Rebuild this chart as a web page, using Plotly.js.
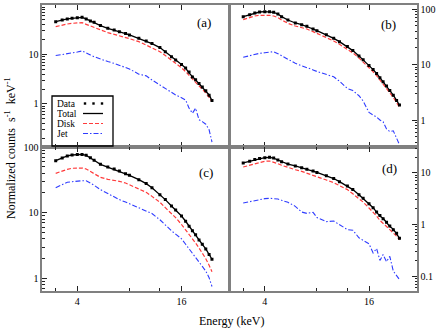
<!DOCTYPE html>
<html>
<head>
<meta charset="utf-8">
<script src="https://cdn.plot.ly/plotly-3.0.1.min.js"></script>
<style>html,body{margin:0;padding:0;background:#fff;}#chart{width:436px;height:329px;}</style>
</head>
<body>
<div id="chart"></div>
<script>
// Energy grid (keV)
const energy = [3.0, 3.27, 3.5, 3.73, 4.0, 4.26, 4.5, 4.76, 5.0, 5.44, 6.0, 6.53, 7.0, 7.6, 8.0, 9.07, 10.0, 10.8, 12.0, 12.9, 14.0, 14.8, 16.0, 16.9, 17.7, 18.5, 19.3, 20.2, 21.1, 22.1, 23.1, 24.0];

// Panel (a)
const dataA  = [46.0, 49.8, 52.2, 53.9, 55.5, 56.3, 52.2, 47.5, 44.7, 38.3, 33.8, 31.3, 28.9, 26.4, 24.8, 21.2, 18.7, 16.6, 13.8, 11.4, 9.0, 7.7, 6.3, 5.3, 4.4, 3.5, 3.1, 2.6, 2.2, 1.85, 1.5, 1.17];
const totalA = [46.0, 49.8, 52.2, 53.9, 55.5, 56.3, 52.2, 47.5, 44.7, 38.3, 33.8, 31.3, 28.9, 26.4, 24.8, 21.2, 18.7, 16.6, 13.8, 11.4, 9.0, 7.7, 6.3, 5.3, 4.2, 3.6, 3.05, 2.6, 2.24, 1.83, 1.52, 1.17];
const diskA  = [36.5, 39.4, 41.3, 42.6, 44.0, 44.0, 40.7, 37.6, 34.9, 30.8, 27.6, 25.5, 24.0, 22.2, 20.9, 18.2, 15.6, 13.8, 11.4, 9.5, 7.7, 6.6, 5.4, 4.5, 3.7, 3.2, 2.74, 2.35, 2.0, 1.67, 1.36, 1.11];
const jetA   = [9.5, 9.9, 10.4, 10.7, 11.2, 11.8, 10.9, 9.8, 9.0, 8.0, 7.2, 6.6, 6.1, 5.6, 5.1, 4.0, 3.7, 3.05, 2.4, 2.0, 1.72, 1.52, 1.34, 1.2, 0.82, 0.65, 0.82, 0.48, 0.44, 0.39, 0.30, 0.17];

// Panel (b)
const dataB  = [72.8, 79.1, 84.7, 88.3, 89.5, 89.5, 87.1, 81.3, 72.8, 63.4, 56.0, 52.2, 48.7, 43.6, 40.7, 34.5, 29.6, 25.8, 21.0, 17.8, 14.3, 12.2, 9.6, 8.1, 6.9, 5.8, 4.9, 4.1, 3.4, 2.8, 2.25, 1.86];
const totalB = [72.8, 79.1, 84.7, 88.3, 89.5, 89.5, 87.1, 81.3, 72.8, 63.4, 56.0, 52.2, 48.7, 43.6, 40.7, 34.5, 29.6, 25.8, 21.0, 17.8, 14.3, 12.2, 9.6, 8.1, 6.9, 5.8, 4.9, 4.1, 3.4, 2.8, 2.25, 1.86];
const diskB  = [64.3, 69.8, 74.8, 76.9, 78.0, 76.9, 74.8, 69.8, 63.4, 55.2, 49.4, 46.1, 43.6, 39.1, 36.5, 30.8, 26.5, 23.1, 19.0, 16.2, 13.1, 11.2, 8.8, 7.4, 6.3, 5.3, 4.5, 3.75, 3.1, 2.55, 2.05, 1.71];
const jetB   = [13.5, 14.4, 15.5, 15.9, 16.3, 16.8, 17.0, 15.7, 14.4, 12.6, 10.5, 9.5, 8.9, 8.0, 7.5, 6.7, 6.0, 5.0, 3.7, 3.4, 2.74, 2.2, 1.37, 1.23, 1.13, 1.0, 0.93, 0.69, 0.62, 0.64, 0.47, 0.36];

// Panel (c)
const dataC  = [61.9, 67.9, 73.0, 75.5, 77.2, 77.2, 74.6, 68.8, 62.7, 54.5, 49.6, 46.2, 43.1, 39.3, 37.0, 31.8, 27.7, 24.0, 18.8, 15.8, 12.6, 11.0, 8.9, 7.4, 6.2, 5.3, 4.6, 3.85, 3.3, 2.8, 2.3, 1.95];
const totalC = [61.9, 67.9, 73.0, 75.5, 77.2, 77.2, 74.6, 68.8, 62.7, 54.5, 49.6, 46.2, 43.1, 39.3, 37.0, 31.8, 27.7, 24.0, 18.8, 15.8, 12.6, 11.0, 8.9, 7.4, 6.2, 5.3, 4.6, 3.85, 3.3, 2.8, 2.3, 1.95];
const diskC  = [39.7, 43.1, 45.7, 47.4, 47.9, 47.9, 46.2, 42.6, 39.3, 34.5, 32.2, 31.1, 30.0, 28.3, 26.7, 23.2, 20.4, 17.7, 14.4, 11.9, 9.7, 8.4, 6.6, 5.5, 4.7, 4.0, 3.45, 2.9, 2.43, 1.99, 1.58, 1.26];
const jetC   = [24.0, 26.7, 29.0, 29.6, 30.4, 30.7, 30.7, 28.3, 26.1, 22.4, 19.5, 17.3, 15.8, 14.5, 13.7, 11.9, 10.7, 9.7, 7.8, 6.4, 5.3, 4.7, 4.0, 3.3, 2.83, 2.43, 2.06, 1.77, 1.52, 1.29, 1.02, 0.75];

// Panel (d)
const dataD  = [15.4, 16.6, 17.9, 18.9, 19.5, 19.8, 19.2, 17.6, 16.3, 14.7, 13.5, 12.5, 11.6, 10.8, 10.1, 8.7, 7.7, 6.7, 5.5, 4.7, 3.75, 3.2, 2.5, 2.1, 1.73, 1.48, 1.28, 1.1, 0.93, 0.79, 0.67, 0.54];
const totalD = [15.4, 16.6, 17.9, 18.9, 19.5, 19.8, 19.2, 17.6, 16.3, 14.7, 13.5, 12.5, 11.6, 10.8, 10.1, 8.7, 7.7, 6.7, 5.5, 4.7, 3.75, 3.2, 2.5, 2.1, 1.73, 1.43, 1.31, 1.09, 0.91, 0.81, 0.66, 0.54];
const diskD  = [12.9, 13.9, 14.9, 15.8, 16.6, 16.8, 16.1, 14.9, 13.9, 12.5, 11.4, 10.6, 9.7, 8.9, 8.4, 7.2, 6.4, 5.7, 4.7, 3.9, 3.1, 2.7, 2.07, 1.73, 1.45, 1.19, 1.06, 0.91, 0.79, 0.69, 0.59, 0.50];
const jetD   = [2.59, 2.75, 2.92, 3.05, 3.14, 3.19, 3.19, 3.09, 2.92, 2.67, 2.23, 1.73, 1.63, 1.71, 1.35, 1.13, 1.16, 0.97, 0.79, 0.77, 0.55, 0.49, 0.42, 0.28, 0.34, 0.20, 0.26, 0.19, 0.24, 0.125, 0.103, 0.085];

// Tick labels
const xTickVals = [4, 16];
const xTickText = ['4', '16'];
const xMinorVals = [3, 8, 12];
const yTickVals = [0.1, 1, 10, 100];
const yTickText = ['0.1', '1', '10', '100'];
const panelLabels = ['(a)', '(b)', '(c)', '(d)'];
const seriesNames = ['Data', 'Total', 'Disk', 'Jet'];

const yMinorVals = [];
[0.01, 0.1, 1, 10].forEach(d => { for (let k = 2; k <= 9; k++) yMinorVals.push(+(k * d).toPrecision(3)); });

const SERIF = 'Liberation Serif';
const FRAME = '#808080';
const TICKC = '#222';
const RED = '#ff3b3b';
const BLUE = '#2f3cff';
const fnt = (size) => ({family: SERIF, size: size, color: '#000', weight: 'normal'});

const panels = [
  {data: dataA, total: totalA, disk: diskA, jet: jetA, xa: 'x',  ya: 'y'},
  {data: dataB, total: totalB, disk: diskB, jet: jetB, xa: 'x2', ya: 'y2'},
  {data: dataC, total: totalC, disk: diskC, jet: jetC, xa: 'x3', ya: 'y3'},
  {data: dataD, total: totalD, disk: diskD, jet: jetD, xa: 'x4', ya: 'y4'}
];

const traces = [];
panels.forEach(p => {
  traces.push({x: energy, y: p.jet, xaxis: p.xa, yaxis: p.ya, mode: 'lines', name: 'Jet', showlegend: false,
    line: {color: BLUE, width: 1.1, dash: '5px,2px,1.5px,2px'}});
  traces.push({x: energy, y: p.disk, xaxis: p.xa, yaxis: p.ya, mode: 'lines', name: 'Disk', showlegend: false,
    line: {color: RED, width: 1.2, dash: '4px,2px'}});
  traces.push({x: energy, y: p.total, xaxis: p.xa, yaxis: p.ya, mode: 'lines', name: 'Total', showlegend: false,
    line: {color: '#000', width: 1.3}});
  traces.push({x: energy, y: p.data, xaxis: p.xa, yaxis: p.ya, mode: 'markers', name: 'Data', showlegend: false,
    marker: {color: '#000', size: 3, symbol: 'square'}});
});

const L = 42, R = 19, T = 5, B = 38, W = 436, H = 329;
const PW = W - L - R, PH = H - T - B;
const px = v => (v - L) / PW;
const py = v => (H - B - v) / PH;
const split = py(147);

function xax(domain, anchor, labels) {
  return {
    domain: domain, anchor: anchor, type: 'log',
    range: [Math.log10(2.5), Math.log10(30.3)],
    tickmode: 'array', tickvals: xTickVals, ticktext: xTickText,
    showticklabels: labels,
    ticks: 'inside', ticklen: 5, tickwidth: 1, tickcolor: TICKC,
    showline: true, linecolor: FRAME, linewidth: 1.6, mirror: 'ticks',
    showgrid: false, zeroline: false,
    minor: {tickmode: 'array', tickvals: xMinorVals, ticks: 'inside', ticklen: 3, tickwidth: 1, tickcolor: TICKC, showgrid: false},
    tickfont: fnt(10)
  };
}
function yax(domain, anchor, side, range) {
  return {
    domain: domain, anchor: anchor, type: 'log', side: side, range: range,
    tickmode: 'array', tickvals: yTickVals, ticktext: yTickText,
    ticks: 'inside', ticklen: 5, tickwidth: 1, tickcolor: TICKC,
    showline: true, linecolor: FRAME, linewidth: 1.6, mirror: true,
    showgrid: false, zeroline: false,
    minor: {tickmode: 'array', tickvals: yMinorVals, ticks: 'inside', ticklen: 2.5, tickwidth: 1, tickcolor: TICKC, showgrid: false},
    tickfont: fnt(10)
  };
}

const annotations = [];
const labelPos = [[204, 23], [388, 24], [206, 172], [389, 168]];
panelLabels.forEach((t, i) => {
  annotations.push({text: t, xref: 'paper', yref: 'paper', x: px(labelPos[i][0]), y: py(labelPos[i][1]),
    showarrow: false, xanchor: 'center', yanchor: 'middle', font: fnt(13)});
});
annotations.push({text: 'Normalized counts  s<sup>-1</sup>  keV<sup>-1</sup>', xref: 'paper', yref: 'paper',
  x: px(10), y: py(148), textangle: -90, showarrow: false, xanchor: 'center', yanchor: 'middle',
  font: fnt(12)});
annotations.push({text: 'Energy (keV)', xref: 'paper', yref: 'paper', x: px(231), y: py(321),
  showarrow: false, xanchor: 'center', yanchor: 'middle', font: fnt(12)});

// legend (text left, sample right)
const rowY = [103.5, 113.5, 123.5, 133.5];
seriesNames.forEach((n, i) => {
  annotations.push({text: n, xref: 'paper', yref: 'paper', x: px(56), y: py(rowY[i]), showarrow: false,
    xanchor: 'left', yanchor: 'middle', height: 9, valign: 'middle', borderpad: 0,
    font: fnt(9.5)});
});
const shapes = [
  {type: 'rect', xref: 'paper', yref: 'paper', x0: px(52), x1: px(113), y0: py(146), y1: py(96),
    line: {color: '#000', width: 1.3}, fillcolor: 'rgba(255,255,255,0)'},
  {type: 'line', xref: 'paper', yref: 'paper', x0: px(83), x1: px(103), y0: py(rowY[1]), y1: py(rowY[1]),
    line: {color: '#000', width: 1.3}},
  {type: 'line', xref: 'paper', yref: 'paper', x0: px(83), x1: px(103), y0: py(rowY[2]), y1: py(rowY[2]),
    line: {color: RED, width: 1.2, dash: '4px,2px'}},
  {type: 'line', xref: 'paper', yref: 'paper', x0: px(83), x1: px(103), y0: py(rowY[3]), y1: py(rowY[3]),
    line: {color: BLUE, width: 1.1, dash: '5px,2px,1.5px,2px'}}
];
[85, 93.5, 102].forEach(cx => {
  shapes.push({type: 'rect', xref: 'paper', yref: 'paper', x0: px(cx - 1.2), x1: px(cx + 1.2),
    y0: py(rowY[0] + 1.2), y1: py(rowY[0] - 1.2), line: {width: 0}, fillcolor: '#000'});
});

const layout = {
  width: W, height: H,
  margin: {l: L, r: R, t: T, b: B, pad: 0},
  paper_bgcolor: '#fff', plot_bgcolor: '#fff',
  showlegend: false,
  font: fnt(10),
  xaxis:  xax([0, 0.5], 'y', false),
  xaxis2: xax([0.5, 1], 'y2', false),
  xaxis3: xax([0, 0.5], 'y3', true),
  xaxis4: xax([0.5, 1], 'y4', true),
  yaxis:  yax([split, 1], 'x', 'left', [-0.87, 2.0]),
  yaxis2: yax([split, 1], 'x2', 'right', [-0.486, 2.072]),
  yaxis3: yax([0, split], 'x3', 'left', [-0.193, 2.0]),
  yaxis4: yax([0, split], 'x4', 'right', [-1.29, 1.497]),
  annotations: annotations,
  shapes: shapes
};

Plotly.newPlot('chart', traces, layout, {staticPlot: true, displayModeBar: false});
</script>
</body>
</html>
